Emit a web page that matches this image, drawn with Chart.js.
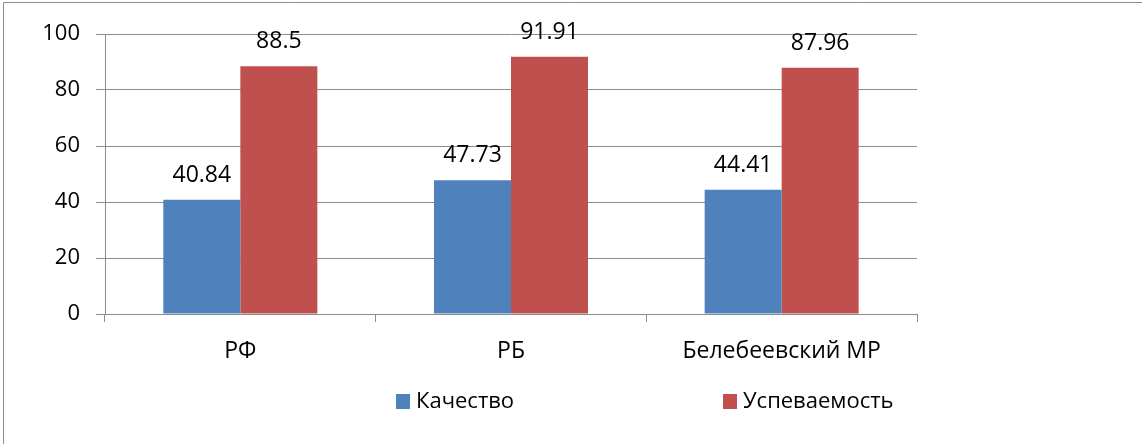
<!DOCTYPE html>
<html>
<head>
<meta charset="utf-8">
<script src="https://cdn.jsdelivr.net/npm/chart.js@4"></script>
<style>
  html, body { margin: 0; padding: 0; background: #fff; }
  #wrap { width: 1142px; height: 444px; position: relative; }
</style>
</head>
<body>
<div id="wrap"><canvas id="myChart" width="1142" height="444"></canvas></div>
<script>
// data
const categories = ["РФ", "РБ", "Белебеевский МР"];
const quality = [40.84, 47.73, 44.41];      // Качество
const progress = [88.5, 91.91, 87.96];     // Успеваемость
const seriesNames = ["Качество", "Успеваемость"];
const yTicks = [0, 20, 40, 60, 80, 100];

const barColors = ["#4F81BD", "#C0504D"];
const FONT = "'Open Sans', 'Noto Sans', sans-serif";
const FS = 23;

// values above the bars
const valueLabels = {
  id: "valueLabels",
  afterDatasetsDraw(chart) {
    const ctx = chart.ctx;
    ctx.save();
    ctx.font = FS + "px " + FONT;
    ctx.fillStyle = "#000";
    ctx.textAlign = "center";
    ctx.textBaseline = "alphabetic";
    chart.data.datasets.forEach((ds, i) => {
      chart.getDatasetMeta(i).data.forEach((bar, j) => {
        ctx.fillText(String(ds.data[j]), bar.x, bar.y - 18);
      });
    });
    ctx.restore();
  }
};

// frame + legend the way the spreadsheet drew them
const frameAndLegend = {
  id: "frameAndLegend",
  afterDraw(chart) {
    const ctx = chart.ctx;
    ctx.save();
    ctx.strokeStyle = "#8c8c8c";
    ctx.lineWidth = 1;
    ctx.beginPath();
    ctx.moveTo(3.5, 444);
    ctx.lineTo(3.5, 2.5);
    ctx.lineTo(1142, 2.5);
    ctx.stroke();

    const starts = [396, 723];
    ctx.font = (FS - 1) + "px " + FONT;
    ctx.textBaseline = "middle";
    ctx.textAlign = "left";
    chart.data.datasets.forEach((ds, i) => {
      ctx.fillStyle = ds.backgroundColor;
      ctx.fillRect(starts[i], 394, 14, 15);
      ctx.fillStyle = "#000";
      ctx.fillText(ds.label, starts[i] + 20, 402);
    });
    ctx.restore();
  }
};

new Chart("myChart", {
  type: "bar",
  data: {
    labels: categories,
    datasets: [
      { label: seriesNames[0], data: quality, backgroundColor: barColors[0] },
      { label: seriesNames[1], data: progress, backgroundColor: barColors[1] }
    ]
  },
  options: {
    responsive: false,
    animation: false,
    events: [],
    layout: { padding: { top: 34, right: 225, left: 0, bottom: 0 } },
    datasets: {
      bar: { categoryPercentage: 0.569, barPercentage: 1.0 }
    },
    plugins: {
      legend: { display: false },
      tooltip: { enabled: false }
    },
    scales: {
      x: {
        afterFit: (s) => { s.height = 130; },
        grid: {
          offset: true,
          drawOnChartArea: false,
          drawTicks: true,
          tickLength: 8,
          color: "#8c8c8c"
        },
        border: { color: "#8c8c8c" },
        ticks: {
          color: "#000",
          padding: 16,
          font: { family: FONT, size: FS }
        }
      },
      y: {
        min: 0,
        max: 100,
        afterFit: (s) => { s.width = 105; },
        afterBuildTicks: (s) => { s.ticks = yTicks.map(v => ({ value: v })); },
        grid: { color: "#8c8c8c", tickLength: 9 },
        border: { color: "#8c8c8c" },
        ticks: {
          color: "#000",
          padding: 16,
          font: { family: FONT, size: FS - 1 }
        }
      }
    }
  },
  plugins: [valueLabels, frameAndLegend]
});
</script>
</body>
</html>
